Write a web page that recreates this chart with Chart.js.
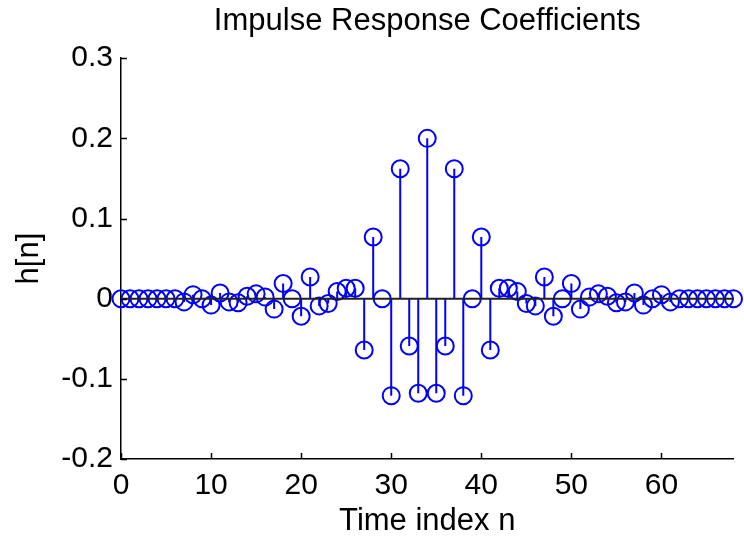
<!DOCTYPE html>
<html>
<head>
<meta charset="utf-8">
<title>Impulse Response Coefficients</title>
<script src="https://cdn.jsdelivr.net/npm/chart.js@4.4.1/dist/chart.umd.min.js"></script>
<style>
  html, body { margin: 0; padding: 0; background: #fff; }
  #wrap { width: 744px; height: 540px; }
</style>
</head>
<body>
<div id="wrap"><canvas id="stemChart" width="744" height="540"></canvas></div>
<script>
// time index n = 0..68
const timeIndex = [0, 1, 2, 3, 4, 5, 6, 7, 8, 9, 10, 11, 12, 13, 14, 15, 16, 17, 18, 19,
  20, 21, 22, 23, 24, 25, 26, 27, 28, 29, 30, 31, 32, 33, 34, 35, 36, 37, 38, 39,
  40, 41, 42, 43, 44, 45, 46, 47, 48, 49, 50, 51, 52, 53, 54, 55, 56, 57, 58, 59,
  60, 61, 62, 63, 64, 65, 66, 67, 68];

// h[n]
const coefficients = [0, 0, 0, 0, 0, 0, 0, -0.004, 0.005, 0, -0.008, 0.007, -0.004, -0.005,
  0.003, 0.006, 0.002, -0.013, 0.019, 0, -0.022, 0.027, -0.009, -0.006, 0.009, 0.013,
  0.013, -0.064, 0.077, 0, -0.121, 0.162, -0.059, -0.118, 0.2, -0.118, -0.059, 0.162,
  -0.121, 0, 0.077, -0.064, 0.013, 0.013, 0.009, -0.006, -0.009, 0.027, -0.022, 0,
  0.019, -0.013, 0.002, 0.006, 0.003, -0.005, -0.004, 0.007, -0.008, 0, 0.005, -0.004,
  0, 0, 0, 0, 0, 0, 0];

const xTicks = [0, 10, 20, 30, 40, 50, 60];
const yTicks = [-0.2, -0.1, 0, 0.1, 0.2, 0.3];

const blue = "#0000ff";
const font = "'Liberation Sans', Arial, Helvetica, sans-serif";

// stems: 0 -> value, broken by nulls
const stemData = [];
const markerData = [];
for (let i = 0; i < timeIndex.length; i++) {
  stemData.push({ x: timeIndex[i], y: 0 });
  stemData.push({ x: timeIndex[i], y: coefficients[i] });
  stemData.push({ x: timeIndex[i], y: null });
  markerData.push({ x: timeIndex[i], y: coefficients[i] });
}
const baseline = [
  { x: timeIndex[0], y: 0 },
  { x: timeIndex[timeIndex.length - 1], y: 0 },
];

// matlab style ticks pointing into the axes
const inwardTicks = {
  id: "inwardTicks",
  afterDraw(chart) {
    const ctx = chart.ctx;
    const xs = chart.scales.x, ys = chart.scales.y;
    const area = chart.chartArea;
    ctx.save();
    ctx.strokeStyle = "#000";
    ctx.lineWidth = 1.5;
    ctx.beginPath();
    xTicks.forEach(v => {
      const px = Math.round(xs.getPixelForValue(v)) + 0.5;
      ctx.moveTo(px, area.bottom);
      ctx.lineTo(px, area.bottom - 6);
    });
    yTicks.forEach(v => {
      const py = Math.round(ys.getPixelForValue(v)) + 0.5;
      ctx.moveTo(area.left, py);
      ctx.lineTo(area.left + 6, py);
    });
    ctx.stroke();
    ctx.restore();
  }
};

const ctx = document.getElementById("stemChart").getContext("2d");
new Chart(ctx, {
  type: "scatter",
  data: {
    datasets: [
      {
        type: "line",
        data: baseline,
        borderColor: "#222",
        borderWidth: 2,
        pointRadius: 0,
        order: 0,
        clip: false,
      },
      {
        data: markerData,
        showLine: false,
        pointStyle: "circle",
        pointRadius: 8.5,
        pointBorderWidth: 2,
        pointBorderColor: blue,
        pointBackgroundColor: "rgba(0,0,0,0)",
        order: 1,
        clip: false,
      },
      {
        type: "line",
        data: stemData,
        borderColor: blue,
        borderWidth: 2,
        pointRadius: 0,
        spanGaps: false,
        order: 2,
        clip: false,
      },
    ],
  },
  options: {
    responsive: false,
    animation: false,
    layout: { padding: { left: 0, right: 4, top: 0, bottom: 0 } },
    plugins: {
      legend: { display: false },
      tooltip: { enabled: false },
      title: {
        display: true,
        fullSize: false,
        text: "Impulse Response Coefficients",
        color: "#000",
        font: { family: font, size: 31, weight: "normal" },
        padding: { top: 3, bottom: 18 },
      },
    },
    scales: {
      x: {
        type: "linear",
        min: 0,
        max: 68,
        afterBuildTicks: scale => { scale.ticks = xTicks.map(v => ({ value: v })); },
        afterFit: scale => { scale.height = 81; },
        grid: { display: false, drawTicks: false },
        border: { display: true, color: "#000", width: 1.5 },
        ticks: {
          color: "#000",
          padding: 9,
          maxRotation: 0,
          font: { family: font, size: 30 },
        },
        title: {
          display: true,
          text: "Time index n",
          color: "#000",
          padding: 0,
          font: { family: font, size: 31 },
        },
      },
      y: {
        type: "linear",
        min: -0.2,
        max: 0.3,
        afterBuildTicks: scale => { scale.ticks = yTicks.map(v => ({ value: v })); },
        afterFit: scale => { scale.width = 121; },
        grid: { display: false, drawTicks: false },
        border: { display: true, color: "#000", width: 1.5 },
        ticks: {
          color: "#000",
          padding: 8,
          font: { family: font, size: 30 },
          callback: v => (Math.abs(v) < 1e-9 ? "0" : (Math.round(v * 10) / 10).toString()),
        },
        title: {
          display: true,
          text: "h[n]",
          color: "#000",
          padding: { top: 11, bottom: 0 },
          font: { family: font, size: 31 },
        },
      },
    },
  },
  plugins: [inwardTicks],
});
</script>
</body>
</html>
